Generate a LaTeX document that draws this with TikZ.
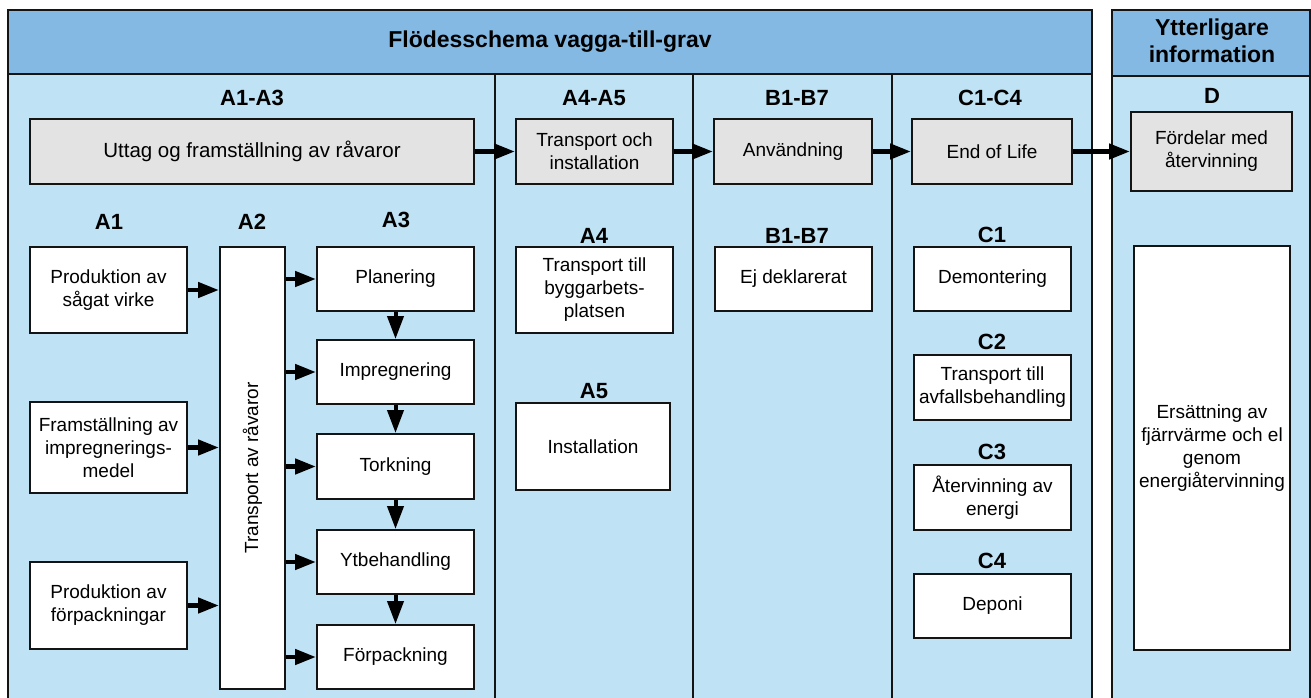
\documentclass[tikz,border=0pt]{standalone}
\usepackage{fontspec}
\setmainfont{Liberation Sans}
\usepackage{graphicx}
\usetikzlibrary{arrows.meta}
\definecolor{headblue}{RGB}{131,185,227}
\definecolor{bodyblue}{RGB}{192,226,245}
\definecolor{boxgray}{RGB}{227,227,227}
\definecolor{edgec}{RGB}{20,20,20}
\begin{document}
\begin{tikzpicture}[x=1pt,y=-1pt,
  wbox/.style={draw=edgec, line width=2pt, fill=white, align=center, inner sep=2pt,
    font=\fontsize{19}{23}\selectfont},
  gbox/.style={wbox, fill=boxgray},
  hd/.style={font=\bfseries\fontsize{22}{26}\selectfont, inner sep=0pt},
  ttl/.style={font=\bfseries\fontsize{23}{27}\selectfont, align=center, inner sep=0pt},
  framel/.style={draw=edgec, line width=2pt},
  arr/.style={draw=black, line width=4.5pt, -{Triangle[length=21pt,width=15pt]}},
  varr/.style={draw=black, line width=4pt, -{Triangle[length=23pt,width=16pt]}}]
\useasboundingbox (0,0) rectangle (1311,697);
\clip (0,0) rectangle (1311,697);
% main frame
\fill[bodyblue] (8,10) rectangle (1092,710);
\fill[headblue] (8,10) rectangle (1092,74);
\draw[framel] (8,710) -- (8,10) -- (1092,10) -- (1092,710);
\draw[framel] (8,74) -- (1092,74);
\draw[framel] (495,74) -- (495,710);
\draw[framel] (693,74) -- (693,710);
\draw[framel] (892,74) -- (892,710);
% right frame
\fill[bodyblue] (1112,10) rectangle (1310,710);
\fill[headblue] (1112,10) rectangle (1310,76);
\draw[framel] (1112,710) -- (1112,10) -- (1310,10) -- (1310,710);
\draw[framel] (1112,76) -- (1310,76);
% titles
\node[ttl] (title) at (550,42) {Flödesschema vagga-till-grav};
\node[ttl] (ytitle) at (1212,41) {Ytterligare\\[0pt]information};
% column headings
\node[hd] (hA13) at (252,98) {A1-A3};
\node[hd] (hA45) at (594,98) {A4-A5};
\node[hd] (hB) at (797,98) {B1-B7};
\node[hd] (hC) at (990,98) {C1-C4};
\node[hd] (hD) at (1212,96) {D};
\node[hd] (hA1) at (109,222) {A1};
\node[hd] (hA2) at (252,222) {A2};
\node[hd] (hA3) at (396,220) {A3};
\node[hd] (hA4) at (594,236) {A4};
\node[hd] (hA5) at (594,391) {A5};
\node[hd] (hB17) at (797,236) {B1-B7};
\node[hd] (hC1) at (992,235) {C1};
\node[hd] (hC2) at (992,342) {C2};
\node[hd] (hC3) at (992,452) {C3};
\node[hd] (hC4) at (992,561) {C4};
% top row
\node[gbox, minimum width=444pt, minimum height=65pt, font=\fontsize{20.5}{24}\selectfont] (uttag) at (252,151.5) {Uttag og framställning av råvaror};
\node[gbox, minimum width=157pt, minimum height=65pt] (trans) at (594.5,151.5) {Transport och\\installation};
\node[gbox, minimum width=158pt, minimum height=65pt] (anv) at (793,151.5) {Användning};
\node[gbox, minimum width=160pt, minimum height=65pt] (eol) at (992,151.5) {End of Life};
\node[gbox, minimum width=161pt, minimum height=79pt] (ford) at (1211.5,151.5) {Fördelar med\\återvinning};
% A1
\node[wbox, minimum width=157pt, minimum height=86pt] (a1a) at (108.5,290) {Produktion av\\sågat virke};
\node[wbox, minimum width=157pt, minimum height=91pt] (a1b) at (108.5,447.5) {Framställning av\\impregnerings-\\medel};
\node[wbox, minimum width=157pt, minimum height=87pt] (a1c) at (108.5,605.5) {Produktion av\\förpackningar};
% A2
\node[wbox, minimum width=65pt, minimum height=442pt] (a2) at (252.5,468) {\rotatebox{90}{Transport av råvaror}};
% A3
\node[wbox, minimum width=157pt, minimum height=64pt] (plan) at (395.5,279) {Planering};
\node[wbox, minimum width=157pt, minimum height=64pt] (impr) at (395.5,372) {Impregnering};
\node[wbox, minimum width=157pt, minimum height=65pt] (tork) at (395.5,466.5) {Torkning};
\node[wbox, minimum width=157pt, minimum height=64pt] (ytb) at (395.5,562) {Ytbehandling};
\node[wbox, minimum width=157pt, minimum height=64pt] (forp) at (395.5,657) {Förpackning};
% A4, A5
\node[wbox, minimum width=157pt, minimum height=86pt] (a4) at (594.5,290) {Transport till\\byggarbets-\\platsen};
\node[wbox, minimum width=154pt, minimum height=87pt] (a5) at (593,446.5) {Installation};
% B
\node[wbox, minimum width=157pt, minimum height=64pt] (b17) at (793.5,279) {Ej deklarerat};
% C
\node[wbox, minimum width=157pt, minimum height=64pt] (c1) at (992.5,279) {Demontering};
\node[wbox, minimum width=157pt, minimum height=65pt] (c2) at (992.5,387.5) {Transport till\\avfallsbehandling};
\node[wbox, minimum width=157pt, minimum height=65pt] (c3) at (992.5,497.5) {Återvinning av\\energi};
\node[wbox, minimum width=157pt, minimum height=64pt] (c4) at (992.5,606) {Deponi};
% D
\node[wbox, minimum width=156pt, minimum height=404pt] (dbox) at (1212,448) {Ersättning av\\fjärrvärme och el\\genom\\energiåtervinning};
% arrows top row
\draw[arr] (uttag.east) -- (trans.west);
\draw[arr] (trans.east) -- (anv.west);
\draw[arr] (anv.east) -- (eol.west);
\draw[arr] (eol.east) -- (ford.west);
% A1 -> A2
\draw[arr] (a1a.east) -- (a1a.east -| a2.west);
\draw[arr] (a1b.east) -- (a1b.east -| a2.west);
\draw[arr] (a1c.east) -- (a1c.east -| a2.west);
% A2 -> A3
\draw[arr] (plan.west -| a2.east) -- (plan.west);
\draw[arr] (impr.west -| a2.east) -- (impr.west);
\draw[arr] (tork.west -| a2.east) -- (tork.west);
\draw[arr] (ytb.west -| a2.east) -- (ytb.west);
\draw[arr] (forp.west -| a2.east) -- (forp.west);
% A3 vertical
\draw[varr] (plan.south) -- (impr.north);
\draw[varr] (impr.south) -- (tork.north);
\draw[varr] (tork.south) -- (ytb.north);
\draw[varr] (ytb.south) -- (forp.north);
\end{tikzpicture}
\end{document}
